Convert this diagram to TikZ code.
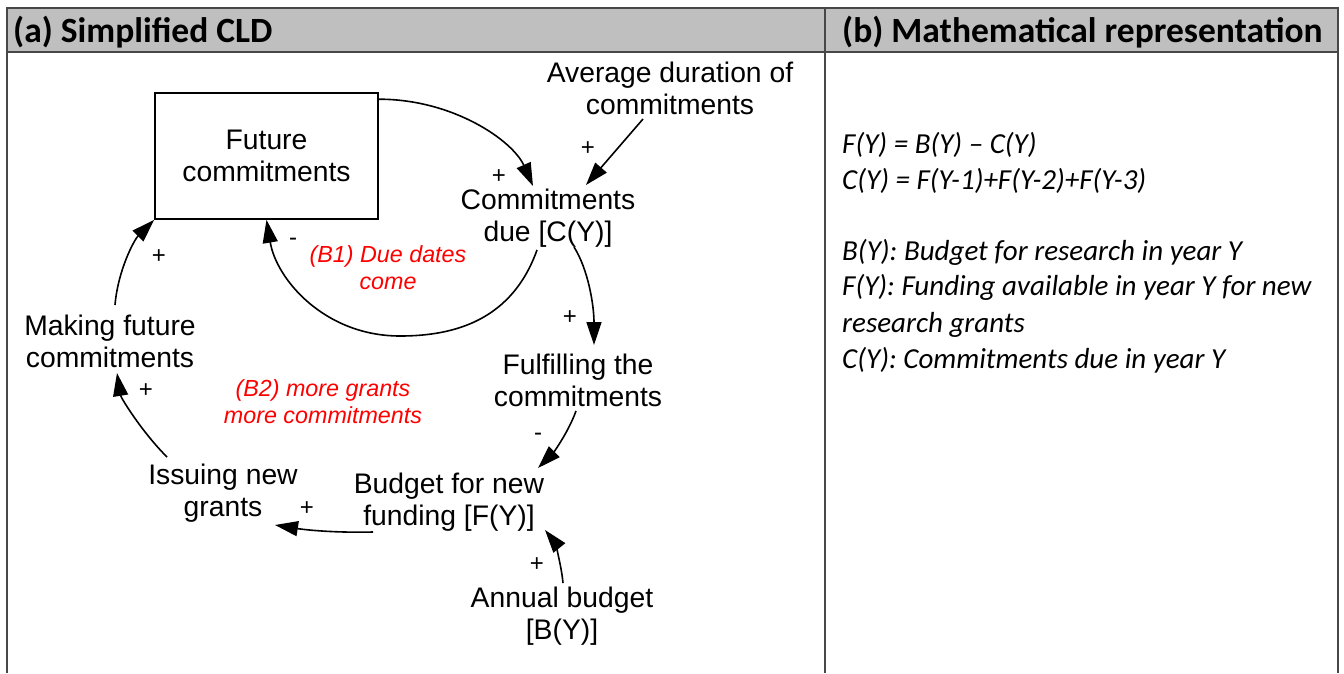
\documentclass[tikz,border=0pt]{standalone}
\usepackage{fontspec}
\setmainfont{Liberation Sans}
\newfontfamily\calib{Carlito}
\usetikzlibrary{arrows.meta}

\begin{document}
\begin{tikzpicture}[x=1pt,y=-1pt,
  frame/.style={draw=black!72,line width=2pt},
  var/.style={align=center,font=\fontsize{28.3}{32}\selectfont,inner sep=0pt},
  stock/.style={draw,line width=1.6pt,minimum width=223pt,minimum height=126pt,
    align=center,font=\fontsize{28.3}{32}\selectfont,inner sep=0pt},
  loopname/.style={align=center,text=red,font=\fontsize{23.3}{27}\selectfont\itshape,inner sep=0pt},
  sign/.style={font=\fontsize{24}{24}\selectfont,inner sep=0pt},
  link/.style={line width=1.6pt,-{Triangle[length=23pt,width=15pt]}},
  hdr/.style={font=\calib\bfseries\fontsize{35.5}{36}\selectfont,anchor=base west,inner sep=0pt},
  eq/.style={font=\calib\itshape\fontsize{29}{29}\selectfont,anchor=base west,inner sep=0pt}]
\useasboundingbox (0,0) rectangle (1344,673);
\fill[white] (0,0) rectangle (1344,673);

% table frame and header band
\fill[gray!50] (7,8) rectangle (1338,52);
\draw[frame] (7,673) -- (7,8) -- (1338,8) -- (1338,673);
\draw[frame] (7,52) -- (1338,52);
\draw[frame] (825,8) -- (825,673);
\node[hdr] (ha) at (13,42) {(a) Simplified CLD};
\node[hdr] (hb) at (842,42) {(b) Mathematical representation};

% causal loop diagram
\node[stock] (fc) at (266.5,156) {Future\\commitments};
\node[var] (avg) at (670,88) {Average duration of\\commitments};
\node[var] (cd) at (548,218) {Commitments\\due [C(Y)]};
\node[var] (ful) at (578,380) {Fulfilling the\\commitments};
\node[var] (bud) at (449,502) {Budget for new\\funding [F(Y)]};
\node[var] (ann) at (562,616) {Annual budget\\{}[B(Y)]};
\node[var] (iss) at (223,493) {Issuing new\\grants};
\node[var] (mak) at (110,341) {Making future\\commitments};

\node[loopname] (b1) at (388,268) {(B1) Due dates\\come};
\node[loopname] (b2) at (323,402) {(B2) more grants\\more commitments};

\draw[link] ([yshift=-7pt]fc.north east) .. controls +(75,0) and +(-20,-45) .. ([shift={(-15,-32)}]cd.center);
\draw[link] ([shift={(-27,31)}]avg.center) -- ([shift={(38,-33)}]cd.center);
\draw[link] ([shift={(-11,32)}]cd.center) .. controls +(-25,70) and +(55,0) .. (400,336)
  .. controls +(-75,0) and +(10,60) .. (fc.south);
\draw[link] ([shift={(26,29)}]cd.center) .. controls +(14,22) and +(0,-40) .. ([shift={(16,-35)}]ful.center);
\draw[link] ([shift={(-2,31)}]ful.center) .. controls +(-8,22) and +(15,-15) .. ([shift={(89,-34)}]bud.center);
\draw[link] ([shift={(1,-33)}]ann.center) .. controls +(-2,-22) and +(8,10) .. ([shift={(96,28)}]bud.center);
\draw[link] ([shift={(-76,30)}]bud.center) .. controls +(-45,1) and +(25,4) .. ([shift={(52,32)}]iss.center);
\draw[link] ([shift={(-56,-36)}]iss.center) .. controls +(-25,-25) and +(4,25) .. ([shift={(7,32)}]mak.center);
\draw[link] ([shift={(5,-36)}]mak.center) .. controls +(3,-35) and +(-20,20) .. (fc.south west);

\node[sign] (s1) at (499,177) {+};
\node[sign] (s2) at (588,149) {+};
\node[sign] (s3) at (293,242) {-};
\node[sign] (s4) at (570,318) {+};
\node[sign] (s5) at (538,437) {-};
\node[sign] (s6) at (537,565) {+};
\node[sign] (s7) at (307,509) {+};
\node[sign] (s8) at (146,391) {+};
\node[sign] (s9) at (159,257) {+};

% equations and definitions
\node[eq] (e1) at (842,153) {F(Y) = B(Y) – C(Y)};
\node[eq] (e2) at (842,189) {C(Y) = F(Y-1)+F(Y-2)+F(Y-3)};
\node[eq] (d1) at (842,260) {B(Y): Budget for research in year Y};
\node[eq] (d2) at (842,295) {F(Y): Funding available in year Y for new};
\node[eq] (d3) at (842,332) {research grants};
\node[eq] (d4) at (842,368) {C(Y): Commitments due in year Y};
\end{tikzpicture}
\end{document}
